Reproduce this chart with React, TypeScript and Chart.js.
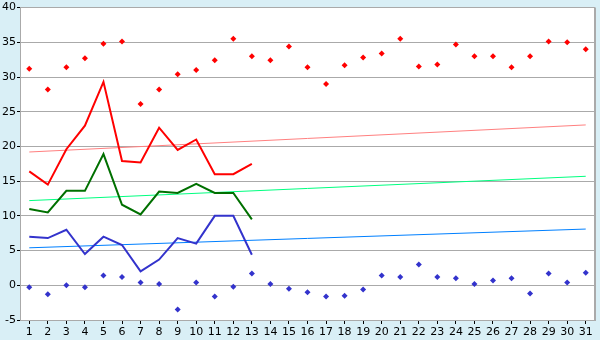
import React, { useEffect, useRef } from "react";
import { Chart, registerables } from "chart.js";

Chart.register(...registerables);

const days = Array.from({ length: 31 }, (_, i) => String(i + 1));
const maxPoints = [31.2, 28.2, 31.4, 32.7, 34.8, 35.1, 26.1, 28.2, 30.4, 31.0, 32.4, 35.5, 33.0, 32.4, 34.4, 31.4, 29.0, 31.7, 32.8, 33.4, 35.5, 31.5, 31.8, 34.7, 33.0, 33.0, 31.4, 33.0, 35.1, 35.0, 34.0];
const minPoints = [-0.3, -1.3, 0.0, -0.3, 1.4, 1.2, 0.4, 0.2, -3.5, 0.4, -1.6, -0.2, 1.7, 0.2, -0.5, -1.0, -1.6, -1.5, -0.6, 1.4, 1.2, 3.0, 1.2, 1.0, 0.2, 0.7, 1.0, -1.2, 1.7, 0.4, 1.8];
const maxLine = [16.4, 14.5, 19.6, 23.0, 29.3, 17.9, 17.7, 22.7, 19.5, 21.0, 16.0, 16.0, 17.5];
const meanLine = [11.0, 10.5, 13.6, 13.6, 18.9, 11.6, 10.2, 13.5, 13.3, 14.6, 13.3, 13.3, 9.5];
const minLine = [7.0, 6.8, 8.0, 4.5, 7.0, 5.8, 2.0, 3.7, 6.8, 6.0, 10.0, 10.0, 4.4];
const trendMax = [19.2, 23.1];
const trendMean = [12.2, 15.7];
const trendMin = [5.4, 8.1];
const yTicks = [-5, 0, 5, 10, 15, 20, 25, 30, 35, 40];

const trend = (v: number[]) => [
  { x: days[0], y: v[0] },
  { x: days[days.length - 1], y: v[1] },
];

const bgPlugin = {
  id: "bg",
  beforeDraw(chart: any) {
    const { ctx, chartArea: a, width, height } = chart;
    ctx.save();
    ctx.fillStyle = "#d9eff6";
    ctx.fillRect(0, 0, width, height);
    ctx.fillStyle = "#ffffff";
    ctx.fillRect(a.left, a.top, a.right - a.left, a.bottom - a.top);
    ctx.restore();
  },
  afterDatasetsDraw(chart: any) {
    const { ctx, chartArea: a } = chart;
    ctx.save();
    ctx.strokeStyle = "#aaaaaa";
    ctx.lineWidth = 2;
    ctx.beginPath();
    ctx.moveTo(a.right, a.top);
    ctx.lineTo(a.right, a.bottom);
    ctx.stroke();
    ctx.restore();
  },
};

export default function App() {
  const ref = useRef<HTMLCanvasElement>(null);
  useEffect(() => {
    document.body.style.margin = "0";
    const font = { family: "'DejaVu Sans', Verdana, sans-serif", size: 11 };
    const chart = new Chart(ref.current!, {
      type: "line",
      data: {
        labels: days,
        datasets: [
          { data: trend(trendMax), borderColor: "#ff8080", borderWidth: 1, pointRadius: 0, order: 5 },
          { data: trend(trendMean), borderColor: "#00ff80", borderWidth: 1, pointRadius: 0, order: 5 },
          { data: trend(trendMin), borderColor: "#0080ff", borderWidth: 1, pointRadius: 0, order: 5 },
          { data: maxLine, borderColor: "#ff0000", borderWidth: 2, pointRadius: 0, order: 2 },
          { data: meanLine, borderColor: "#007000", borderWidth: 2, pointRadius: 0, order: 2 },
          { data: minLine, borderColor: "#3333cc", borderWidth: 2, pointRadius: 0, order: 2 },
          { data: maxPoints, showLine: false, pointStyle: "rectRot", pointRadius: 3, backgroundColor: "#ff0000", borderColor: "#ff0000", borderWidth: 0, order: 1 },
          { data: minPoints, showLine: false, pointStyle: "rectRot", pointRadius: 3, backgroundColor: "#3333cc", borderColor: "#3333cc", borderWidth: 0, order: 1 },
        ],
      },
      options: {
        animation: false,
        responsive: false,
        maintainAspectRatio: false,
        layout: { padding: { top: 5, right: 5, left: 0, bottom: 0 } },
        plugins: { legend: { display: false }, tooltip: { enabled: false } },
        elements: { line: { tension: 0 } },
        scales: {
          x: {
            type: "category",
            offset: true,
            grid: { offset: false, drawOnChartArea: false, drawTicks: true, tickLength: 4, tickColor: "#000000" },
            border: { color: "#aaaaaa", width: 1 },
            ticks: { color: "#000000", font, padding: 2, maxRotation: 0, autoSkip: false },
            afterFit: (s: any) => { s.height = 20; },
          },
          y: {
            min: -5,
            max: 40,
            afterBuildTicks: (s: any) => { s.ticks = yTicks.map((v) => ({ value: v })); },
            grid: { color: "#aaaaaa", tickLength: 3, tickColor: "#000000", lineWidth: 1 },
            border: { color: "#aaaaaa", width: 1 },
            ticks: { color: "#000000", font, padding: 1 },
            afterFit: (s: any) => { s.width = 20; },
          },
        },
      },
      plugins: [bgPlugin],
    } as any);
    return () => chart.destroy();
  }, []);
  return <canvas ref={ref} width={600} height={340} style={{ display: "block" }} />;
}
